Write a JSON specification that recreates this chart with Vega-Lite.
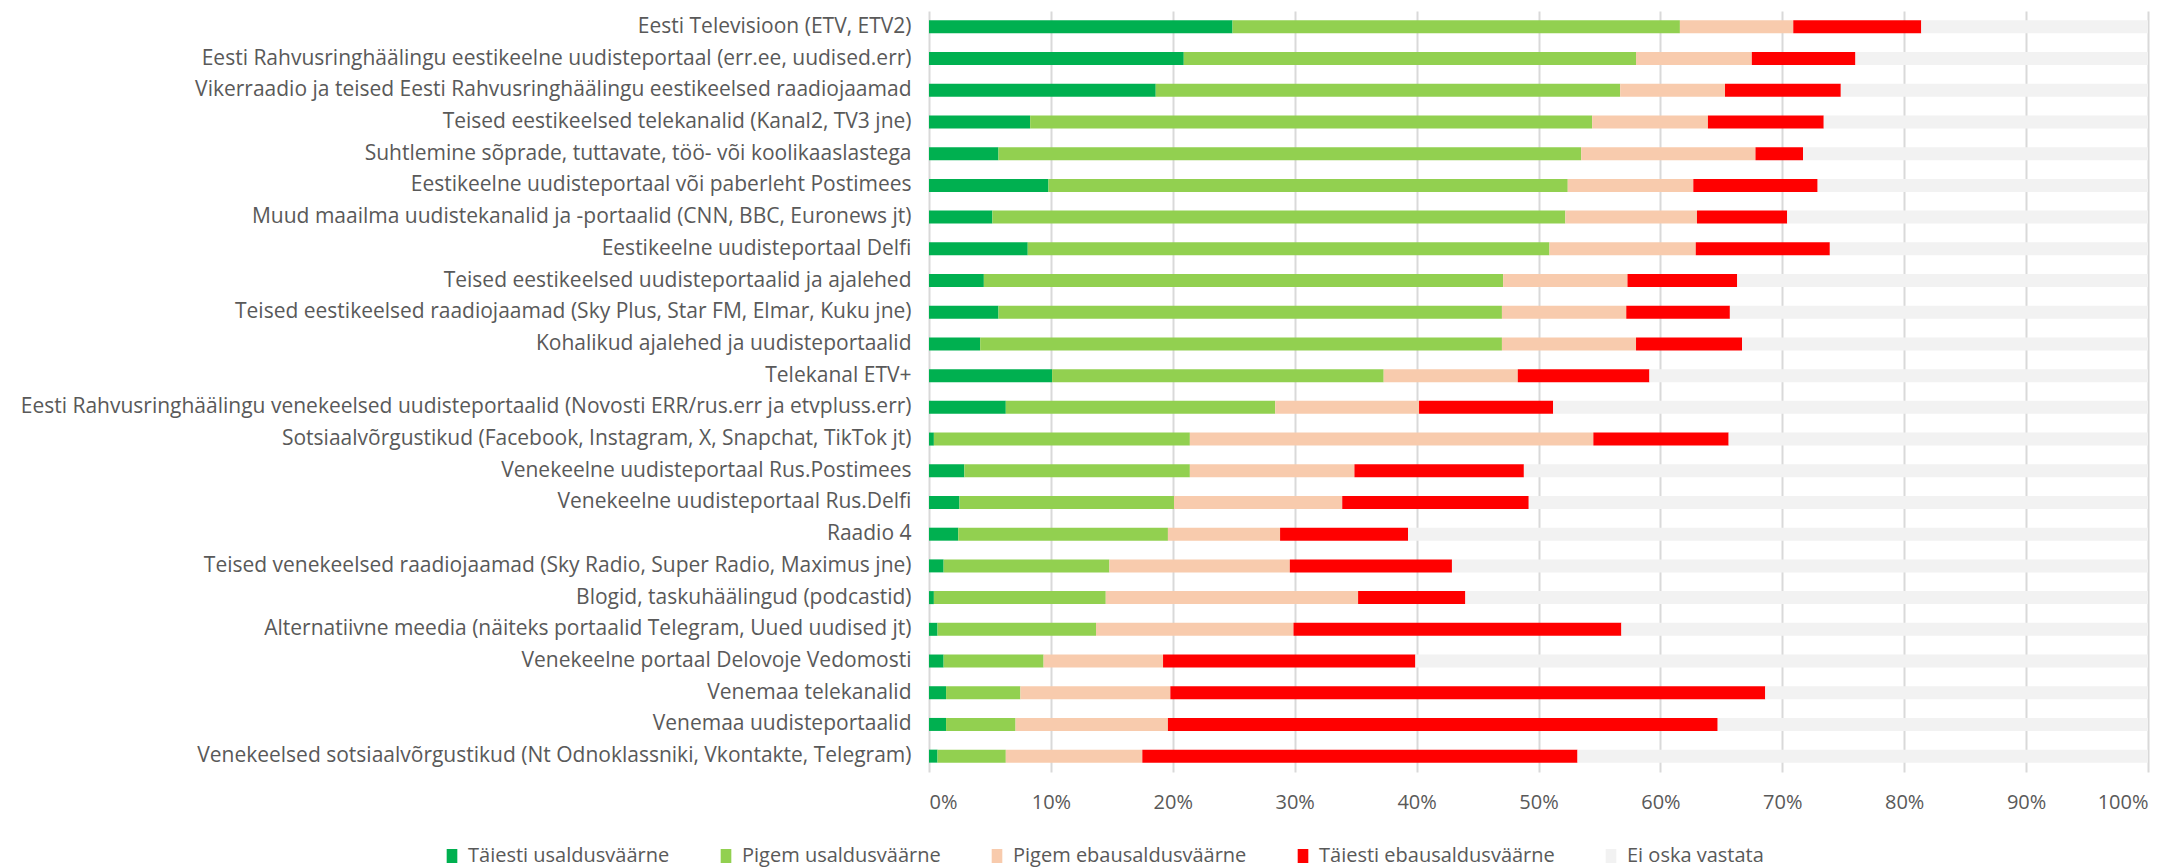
{
  "$schema": "https://vega.github.io/schema/vega-lite/v6.json",
  "autosize": "none",
  "width": 1219,
  "height": 761,
  "padding": {"left": 929, "top": 11, "right": 32, "bottom": 96},
  "background": "white",
  "config": {
    "font": "Open Sans",
    "view": {"stroke": null}
  },
  "datasets": {
    "kat": [
      {"hinnang": "Täiesti usaldusväärne", "jrk": 1},
      {"hinnang": "Pigem usaldusväärne", "jrk": 2},
      {"hinnang": "Pigem ebausaldusväärne", "jrk": 3},
      {"hinnang": "Täiesti ebausaldusväärne", "jrk": 4},
      {"hinnang": "Ei oska vastata", "jrk": 5}
    ]
  },
  "data": {
    "values": [
      {"allikas": "Eesti Televisioon (ETV, ETV2)", "Täiesti usaldusväärne": 24.9, "Pigem usaldusväärne": 36.7, "Pigem ebausaldusväärne": 9.3, "Täiesti ebausaldusväärne": 10.5, "Ei oska vastata": 18.6},
      {"allikas": "Eesti Rahvusringhäälingu eestikeelne uudisteportaal (err.ee, uudised.err)", "Täiesti usaldusväärne": 20.9, "Pigem usaldusväärne": 37.1, "Pigem ebausaldusväärne": 9.5, "Täiesti ebausaldusväärne": 8.5, "Ei oska vastata": 24.0},
      {"allikas": "Vikerraadio ja teised Eesti Rahvusringhäälingu eestikeelsed raadiojaamad", "Täiesti usaldusväärne": 18.6, "Pigem usaldusväärne": 38.1, "Pigem ebausaldusväärne": 8.6, "Täiesti ebausaldusväärne": 9.5, "Ei oska vastata": 25.2},
      {"allikas": "Teised eestikeelsed telekanalid (Kanal2, TV3 jne)", "Täiesti usaldusväärne": 8.3, "Pigem usaldusväärne": 46.1, "Pigem ebausaldusväärne": 9.5, "Täiesti ebausaldusväärne": 9.5, "Ei oska vastata": 26.6},
      {"allikas": "Suhtlemine sõprade, tuttavate, töö- või koolikaaslastega", "Täiesti usaldusväärne": 5.7, "Pigem usaldusväärne": 47.8, "Pigem ebausaldusväärne": 14.3, "Täiesti ebausaldusväärne": 3.9, "Ei oska vastata": 28.3},
      {"allikas": "Eestikeelne uudisteportaal või paberleht Postimees", "Täiesti usaldusväärne": 9.8, "Pigem usaldusväärne": 42.6, "Pigem ebausaldusväärne": 10.3, "Täiesti ebausaldusväärne": 10.2, "Ei oska vastata": 27.1},
      {"allikas": "Muud maailma uudistekanalid ja -portaalid (CNN, BBC, Euronews jt)", "Täiesti usaldusväärne": 5.2, "Pigem usaldusväärne": 47.0, "Pigem ebausaldusväärne": 10.8, "Täiesti ebausaldusväärne": 7.4, "Ei oska vastata": 29.6},
      {"allikas": "Eestikeelne uudisteportaal Delfi", "Täiesti usaldusväärne": 8.1, "Pigem usaldusväärne": 42.8, "Pigem ebausaldusväärne": 12.0, "Täiesti ebausaldusväärne": 11.0, "Ei oska vastata": 26.1},
      {"allikas": "Teised eestikeelsed uudisteportaalid ja ajalehed", "Täiesti usaldusväärne": 4.5, "Pigem usaldusväärne": 42.6, "Pigem ebausaldusväärne": 10.2, "Täiesti ebausaldusväärne": 9.0, "Ei oska vastata": 33.7},
      {"allikas": "Teised eestikeelsed raadiojaamad (Sky Plus, Star FM, Elmar, Kuku jne)", "Täiesti usaldusväärne": 5.7, "Pigem usaldusväärne": 41.3, "Pigem ebausaldusväärne": 10.2, "Täiesti ebausaldusväärne": 8.5, "Ei oska vastata": 34.3},
      {"allikas": "Kohalikud ajalehed ja uudisteportaalid", "Täiesti usaldusväärne": 4.2, "Pigem usaldusväärne": 42.8, "Pigem ebausaldusväärne": 11.0, "Täiesti ebausaldusväärne": 8.7, "Ei oska vastata": 33.3},
      {"allikas": "Telekanal ETV+", "Täiesti usaldusväärne": 10.1, "Pigem usaldusväärne": 27.2, "Pigem ebausaldusväärne": 11.0, "Täiesti ebausaldusväärne": 10.8, "Ei oska vastata": 40.9},
      {"allikas": "Eesti Rahvusringhäälingu venekeelsed uudisteportaalid (Novosti ERR/rus.err ja etvpluss.err)", "Täiesti usaldusväärne": 6.3, "Pigem usaldusväärne": 22.1, "Pigem ebausaldusväärne": 11.8, "Täiesti ebausaldusväärne": 11.0, "Ei oska vastata": 48.8},
      {"allikas": "Sotsiaalvõrgustikud (Facebook, Instagram, X, Snapchat, TikTok jt)", "Täiesti usaldusväärne": 0.4, "Pigem usaldusväärne": 21.0, "Pigem ebausaldusväärne": 33.1, "Täiesti ebausaldusväärne": 11.1, "Ei oska vastata": 34.4},
      {"allikas": "Venekeelne uudisteportaal Rus.Postimees", "Täiesti usaldusväärne": 2.9, "Pigem usaldusväärne": 18.5, "Pigem ebausaldusväärne": 13.5, "Täiesti ebausaldusväärne": 13.9, "Ei oska vastata": 51.2},
      {"allikas": "Venekeelne uudisteportaal Rus.Delfi", "Täiesti usaldusväärne": 2.5, "Pigem usaldusväärne": 17.6, "Pigem ebausaldusväärne": 13.8, "Täiesti ebausaldusväärne": 15.3, "Ei oska vastata": 50.8},
      {"allikas": "Raadio 4", "Täiesti usaldusväärne": 2.4, "Pigem usaldusväärne": 17.2, "Pigem ebausaldusväärne": 9.2, "Täiesti ebausaldusväärne": 10.5, "Ei oska vastata": 60.7},
      {"allikas": "Teised venekeelsed raadiojaamad (Sky Radio, Super Radio, Maximus jne)", "Täiesti usaldusväärne": 1.2, "Pigem usaldusväärne": 13.6, "Pigem ebausaldusväärne": 14.8, "Täiesti ebausaldusväärne": 13.3, "Ei oska vastata": 57.1},
      {"allikas": "Blogid, taskuhäälingud (podcastid)", "Täiesti usaldusväärne": 0.4, "Pigem usaldusväärne": 14.1, "Pigem ebausaldusväärne": 20.7, "Täiesti ebausaldusväärne": 8.8, "Ei oska vastata": 56.0},
      {"allikas": "Alternatiivne meedia (näiteks portaalid Telegram, Uued uudised jt)", "Täiesti usaldusväärne": 0.7, "Pigem usaldusväärne": 13.0, "Pigem ebausaldusväärne": 16.2, "Täiesti ebausaldusväärne": 26.9, "Ei oska vastata": 43.2},
      {"allikas": "Venekeelne portaal Delovoje Vedomosti", "Täiesti usaldusväärne": 1.2, "Pigem usaldusväärne": 8.2, "Pigem ebausaldusväärne": 9.8, "Täiesti ebausaldusväärne": 20.7, "Ei oska vastata": 60.1},
      {"allikas": "Venemaa telekanalid", "Täiesti usaldusväärne": 1.4, "Pigem usaldusväärne": 6.1, "Pigem ebausaldusväärne": 12.3, "Täiesti ebausaldusväärne": 48.8, "Ei oska vastata": 31.4},
      {"allikas": "Venemaa uudisteportaalid", "Täiesti usaldusväärne": 1.4, "Pigem usaldusväärne": 5.7, "Pigem ebausaldusväärne": 12.5, "Täiesti ebausaldusväärne": 45.1, "Ei oska vastata": 35.3},
      {"allikas": "Venekeelsed sotsiaalvõrgustikud (Nt Odnoklassniki, Vkontakte, Telegram)", "Täiesti usaldusväärne": 0.7, "Pigem usaldusväärne": 5.6, "Pigem ebausaldusväärne": 11.2, "Täiesti ebausaldusväärne": 35.7, "Ei oska vastata": 46.8}
    ]
  },
  "transform": [
    {"fold": ["Täiesti usaldusväärne", "Pigem usaldusväärne", "Pigem ebausaldusväärne", "Täiesti ebausaldusväärne", "Ei oska vastata"], "as": ["hinnang", "protsent"]},
    {"lookup": "hinnang", "from": {"data": {"name": "kat"}, "key": "hinnang", "fields": ["jrk"]}}
  ],
  "mark": {"type": "bar"},
  "encoding": {
    "y": {
      "field": "allikas",
      "type": "nominal",
      "sort": null,
      "title": null,
      "scale": {"paddingInner": 0.59, "paddingOuter": 0.295},
      "axis": {
        "domain": false,
        "ticks": false,
        "grid": false,
        "labelPadding": 18,
        "labelLimit": 1000,
        "labelFontSize": 21,
        "labelColor": "#595959"
      }
    },
    "x": {
      "field": "protsent",
      "type": "quantitative",
      "stack": "normalize",
      "title": null,
      "scale": {"domain": [0, 1], "nice": false},
      "axis": {
        "format": ".0%",
        "values": [0, 0.1, 0.2, 0.3, 0.4, 0.5, 0.6, 0.7, 0.8, 0.9, 1],
        "domain": false,
        "ticks": false,
        "grid": true,
        "gridColor": "#D9D9D9",
        "gridWidth": 2,
        "labelPadding": 20,
        "labelFontSize": 20,
        "labelColor": "#595959"
      }
    },
    "color": {
      "field": "hinnang",
      "type": "nominal",
      "sort": ["Täiesti usaldusväärne", "Pigem usaldusväärne", "Pigem ebausaldusväärne", "Täiesti ebausaldusväärne", "Ei oska vastata"],
      "scale": {
        "domain": ["Täiesti usaldusväärne", "Pigem usaldusväärne", "Pigem ebausaldusväärne", "Täiesti ebausaldusväärne", "Ei oska vastata"],
        "range": ["#00B050", "#92D050", "#F8CBAD", "#FF0000", "#F2F2F2"]
      },
      "legend": {
        "title": null,
        "orient": "none",
        "direction": "horizontal",
        "legendX": -487,
        "legendY": 835,
        "columns": 5,
        "columnPadding": 46,
        "symbolType": "M-0.76,-1H0.76V1H-0.76Z",
        "symbolSize": 196,
        "symbolStrokeWidth": 0,
        "labelFontSize": 20,
        "labelColor": "#595959",
        "labelOffset": 6,
        "labelLimit": 400
      }
    },
    "order": {"field": "jrk", "type": "quantitative", "sort": "ascending"}
  }
}
